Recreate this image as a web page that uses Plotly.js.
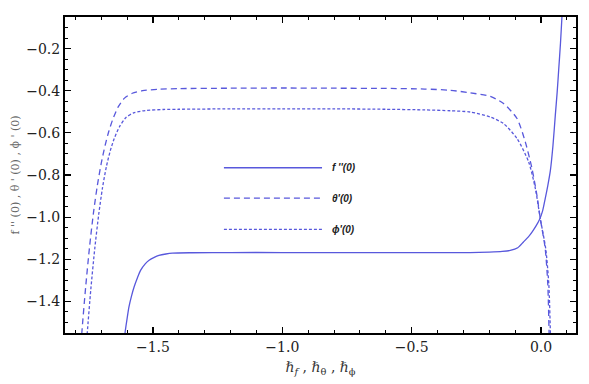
<!DOCTYPE html>
<html>
<head>
<meta charset="utf-8">
<script src="https://cdn.plot.ly/plotly-3.0.1.min.js"></script>
<style>html,body{margin:0;padding:0;background:#fff;}#chart{width:589px;height:384px;}</style>
</head>
<body>
<div id="chart"></div>
<script>
// f''(0) (solid)
const fX = [-1.615, -1.608, -1.600, -1.593, -1.583, -1.573, -1.560, -1.548, -1.530, -1.515, -1.495, -1.477, -1.450, -1.425, -1.350, -1.200, -1.000, -0.800, -0.600, -0.400, -0.274, -0.200, -0.150, -0.119, -0.090, -0.068, -0.050, -0.035, -0.020, -0.006, 0.006, 0.016, 0.026, 0.036, 0.046, 0.055, 0.062, 0.068, 0.075, 0.081, 0.086];
const fY = [-1.650, -1.550, -1.482, -1.427, -1.375, -1.332, -1.288, -1.253, -1.222, -1.205, -1.191, -1.182, -1.175, -1.171, -1.169, -1.168, -1.168, -1.168, -1.168, -1.168, -1.168, -1.166, -1.163, -1.158, -1.145, -1.118, -1.095, -1.071, -1.043, -1.011, -0.970, -0.912, -0.850, -0.778, -0.660, -0.517, -0.410, -0.303, -0.175, -0.042, 0.060];

// theta'(0) (dashed)
const thX = [-1.780, -1.775, -1.760, -1.745, -1.730, -1.715, -1.700, -1.685, -1.670, -1.655, -1.635, -1.610, -1.580, -1.540, -1.480, -1.400, -1.200, -1.000, -0.800, -0.600, -0.450, -0.350, -0.274, -0.196, -0.145, -0.093, -0.061, -0.035, -0.016, -0.003, 0.016, 0.026, 0.031, 0.033];
const thY = [-1.650, -1.550, -1.330, -1.140, -0.980, -0.850, -0.745, -0.660, -0.590, -0.535, -0.478, -0.435, -0.412, -0.400, -0.393, -0.390, -0.388, -0.387, -0.388, -0.389, -0.392, -0.398, -0.410, -0.427, -0.461, -0.532, -0.643, -0.770, -0.897, -1.007, -1.150, -1.320, -1.550, -1.650];

// phi'(0) (dotted)
const phX = [-1.760, -1.754, -1.740, -1.725, -1.710, -1.695, -1.680, -1.665, -1.650, -1.630, -1.605, -1.575, -1.530, -1.460, -1.400, -1.200, -1.000, -0.800, -0.600, -0.450, -0.350, -0.274, -0.196, -0.145, -0.093, -0.048, -0.022, -0.003, 0.018, 0.030, 0.036, 0.038];
const phY = [-1.650, -1.550, -1.340, -1.150, -0.990, -0.860, -0.760, -0.685, -0.628, -0.572, -0.528, -0.505, -0.494, -0.489, -0.488, -0.486, -0.486, -0.486, -0.488, -0.491, -0.495, -0.501, -0.525, -0.556, -0.627, -0.738, -0.865, -1.007, -1.150, -1.320, -1.550, -1.650];

const seriesNames = ["f ''(0)", "\u03B8'(0)", "\u03D5'(0)"];
const xTitle = "\u210F<sub><i>f</i></sub> , \u210F<sub>\u03B8</sub> , \u210F<sub>\u03D5</sub>";
const yTitle = "f '' (0) , \u03B8 ' (0) , \u03D5 ' (0)";

const serif = "DejaVu Serif";
const blue = "#5858dc";
const traces = [
  {x: fX, y: fY, mode: "lines", name: seriesNames[0], line: {color: blue, width: 1.3, shape: "spline", smoothing: 0.7}},
  {x: thX, y: thY, mode: "lines", name: seriesNames[1], line: {color: blue, width: 1.3, dash: "6px,4px", shape: "spline", smoothing: 0.7}},
  {x: phX, y: phY, mode: "lines", name: seriesNames[2], line: {color: blue, width: 1.3, dash: "3px,2px", shape: "spline", smoothing: 0.7}}
];

const legY = [0.523, 0.427, 0.328];
const legDash = ["solid", "6px,4px", "3px,2px"];
const shapes = legY.map((y, i) => ({
  type: "line", xref: "paper", yref: "paper", x0: 0.311, x1: 0.503, y0: y, y1: y,
  line: {color: blue, width: 1.3, dash: legDash[i]}
}));
const annotations = legY.map((y, i) => ({
  xref: "paper", yref: "paper", x: 0.519, y: y, xanchor: "left", yanchor: "middle",
  text: "<b><i>" + seriesNames[i] + "</i></b>", showarrow: false,
  font: {family: "Liberation Sans", size: 10, color: "#222"}
}));

const axisCommon = {
  showgrid: false, zeroline: false, showline: true, linecolor: "#000", linewidth: 2,
  mirror: "ticks", ticks: "inside", ticklen: 6, tickwidth: 1.2, tickcolor: "#000",
  tickfont: {family: serif, size: 14, color: "#222"},
  tickformat: ".1f"
};

const layout = {
  width: 589, height: 384,
  margin: {l: 65, r: 13, t: 17, b: 51},
  paper_bgcolor: "#fff", plot_bgcolor: "#fff",
  showlegend: false,
  font: {family: serif},
  xaxis: Object.assign({}, axisCommon, {
    range: [-1.84, 0.135], dtick: 0.5, tick0: 0,
    minor: {dtick: 0.1, ticks: "inside", ticklen: 3, tickcolor: "#000", tickwidth: 1},
    title: {text: xTitle, standoff: 8, font: {family: serif, size: 14, color: "#333"}}
  }),
  yaxis: Object.assign({}, axisCommon, {
    range: [-1.55, -0.05], dtick: 0.2, tick0: 0,
    minor: {dtick: 0.05, ticks: "inside", ticklen: 3, tickcolor: "#000", tickwidth: 1},
    title: {text: yTitle, standoff: 4, font: {family: serif, size: 11, color: "#666"}}
  }),
  shapes: shapes,
  annotations: annotations
};

Plotly.newPlot("chart", traces, layout, {displayModeBar: false, staticPlot: true});
</script>
</body>
</html>
